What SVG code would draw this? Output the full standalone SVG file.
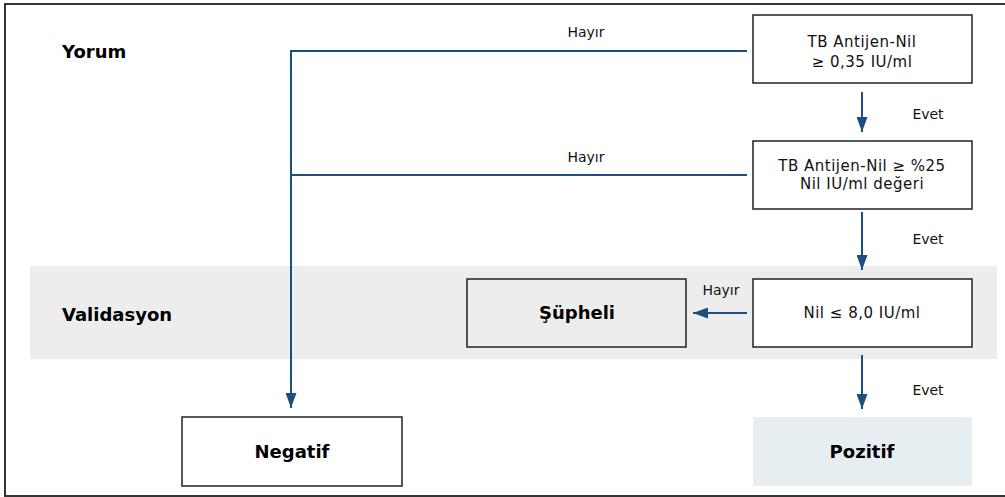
<svg xmlns="http://www.w3.org/2000/svg" width="1005" height="497" viewBox="0 0 1005 497">
  <style>
    .frame { fill: none; stroke: #333333; stroke-width: 2; }
    .band { fill: #ecedec; }
    .box { fill: #ffffff; stroke: #222222; stroke-width: 1.5; }
    .box-gray { fill: #ecedec; stroke: #222222; stroke-width: 1.5; }
    .box-result { fill: #e7eef2; }
    .conn { fill: none; stroke: #1c4f80; stroke-width: 2; }
    .txt { font-family: "DejaVu Sans", "Liberation Sans", sans-serif; font-size: 15px; letter-spacing: 0.5px; fill: #111111; }
    .lbl { font-family: "DejaVu Sans", "Liberation Sans", sans-serif; font-size: 14px; fill: #111111; }
    .head { font-family: "DejaVu Sans", "Liberation Sans", sans-serif; font-size: 18px; font-weight: bold; fill: #000000; }
  </style>
  <defs>
    <marker id="arrow" markerUnits="userSpaceOnUse" markerWidth="15" markerHeight="11" refX="15" refY="5.5" orient="auto">
      <path d="M0,0 L15,5.5 L0,11 Z" fill="#1c4f80"/>
    </marker>
  </defs>

  <!-- background -->
  <rect x="0" y="0" width="1005" height="497" fill="#ffffff"/>
  <rect class="frame" x="5" y="4" width="1010" height="492"/>

  <!-- validation band -->
  <rect class="band" x="30" y="266" width="967" height="93"/>

  <!-- section headings -->
  <text class="head" x="62" y="58">Yorum</text>
  <text class="head" x="62" y="321">Validasyon</text>

  <!-- connectors -->
  <g id="connectors">
    <path class="conn" d="M747,51 H291 V408" marker-end="url(#arrow)"/>
    <path class="conn" d="M747,175 H291"/>
    <path class="conn" d="M862,92 V132" marker-end="url(#arrow)"/>
    <path class="conn" d="M862,212 V270" marker-end="url(#arrow)"/>
    <path class="conn" d="M862,355 V409" marker-end="url(#arrow)"/>
    <path class="conn" d="M747,313 H693" marker-end="url(#arrow)"/>
    <text class="lbl" x="586" y="37" text-anchor="middle">Hayır</text>
    <text class="lbl" x="586" y="162" text-anchor="middle">Hayır</text>
    <text class="lbl" x="721" y="295" text-anchor="middle">Hayır</text>
    <text class="lbl" x="928" y="119" text-anchor="middle">Evet</text>
    <text class="lbl" x="928" y="244" text-anchor="middle">Evet</text>
    <text class="lbl" x="928" y="395" text-anchor="middle">Evet</text>
  </g>

  <!-- decision: antigen minus nil -->
  <g id="node-antigen">
    <rect class="box" x="753" y="15" width="219" height="68"/>
    <text class="txt" x="862" y="46.5" text-anchor="middle">TB Antijen-Nil</text>
    <text class="txt" x="862" y="66.5" text-anchor="middle">≥ 0,35 IU/ml</text>
  </g>

  <!-- decision: antigen relative to nil -->
  <g id="node-percent">
    <rect class="box" x="753" y="141" width="219" height="68"/>
    <text class="txt" x="862" y="170.5" text-anchor="middle">TB Antijen-Nil ≥ %25</text>
    <text class="txt" x="862" y="189" text-anchor="middle">Nil IU/ml değeri</text>
  </g>

  <!-- decision: nil limit -->
  <g id="node-nil">
    <rect class="box" x="753" y="279" width="219" height="68"/>
    <text class="txt" x="862" y="318" text-anchor="middle">Nil ≤ 8,0 IU/ml</text>
  </g>

  <!-- outcome: indeterminate -->
  <g id="node-supheli">
    <rect class="box-gray" x="467" y="279" width="219" height="68"/>
    <text class="head" x="577" y="319" text-anchor="middle">Şüpheli</text>
  </g>

  <!-- outcome: negative -->
  <g id="node-negatif">
    <rect class="box" x="182" y="417" width="220" height="69"/>
    <text class="head" x="292" y="458" text-anchor="middle">Negatif</text>
  </g>

  <!-- outcome: positive -->
  <g id="node-pozitif">
    <rect class="box-result" x="753" y="417" width="219" height="69"/>
    <text class="head" x="862" y="458" text-anchor="middle">Pozitif</text>
  </g>
</svg>
